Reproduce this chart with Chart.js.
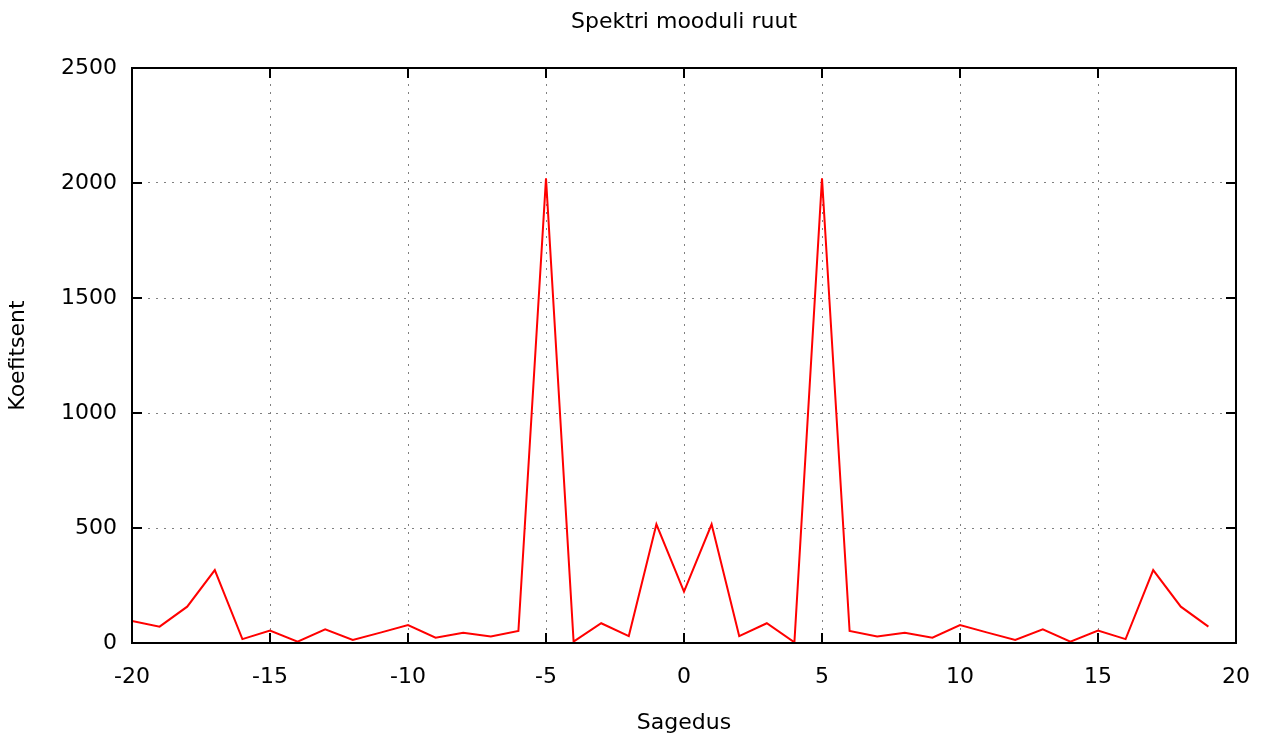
<!DOCTYPE html>
<html>
<head>
<meta charset="utf-8">
<script src="https://cdn.jsdelivr.net/npm/chart.js@4"></script>
<style>
  html, body { margin: 0; padding: 0; background: #ffffff; }
  #wrap { width: 1265px; height: 740px; }
</style>
</head>
<body>
<div id="wrap"><canvas id="c" width="1265" height="740"></canvas></div>
<script>
// Data
const frequencies = [-20,-19,-18,-17,-16,-15,-14,-13,-12,-11,-10,-9,-8,-7,-6,-5,-4,-3,-2,-1,0,1,2,3,4,5,6,7,8,9,10,11,12,13,14,15,16,17,18,19];
const coefficients = [96,71,158,317,17,54,6,59,13,45,78,23,45,28,52,2020,6,86,30,516,223,516,30,86,3,2020,52,28,45,23,78,45,13,59,6,54,17,317,158,71];
const xTickRange = { min: -20, max: 20, step: 5 };
const yTickRange = { min: 0, max: 2500, step: 500 };
const chartTitle = 'Spektri mooduli ruut';
const xAxisTitle = 'Sagedus';
const yAxisTitle = 'Koefitsent';

const FONT = 'DejaVu Sans';
const FSIZE = 22;

const framePlugin = {
  id: 'frame',
  afterDraw(chart) {
    const { ctx, chartArea: a, scales } = chart;
    ctx.save();
    ctx.strokeStyle = '#000000';
    ctx.lineWidth = 2;
    const tl = 10;
    scales.x.ticks.forEach(t => {
      const px = Math.round(scales.x.getPixelForValue(t.value));
      ctx.beginPath();
      ctx.moveTo(px, a.bottom); ctx.lineTo(px, a.bottom - tl);
      ctx.moveTo(px, a.top); ctx.lineTo(px, a.top + tl);
      ctx.stroke();
    });
    scales.y.ticks.forEach(t => {
      const py = Math.round(scales.y.getPixelForValue(t.value));
      ctx.beginPath();
      ctx.moveTo(a.left, py); ctx.lineTo(a.left + tl, py);
      ctx.moveTo(a.right, py); ctx.lineTo(a.right - tl, py);
      ctx.stroke();
    });
    ctx.strokeRect(a.left, a.top, a.right - a.left, a.bottom - a.top);
    ctx.restore();
  }
};

new Chart(document.getElementById('c'), {
  type: 'line',
  data: {
    datasets: [{
      data: frequencies.map((f, i) => ({ x: f, y: coefficients[i] })),
      borderColor: '#ff0000',
      borderWidth: 2,
      pointRadius: 0,
      tension: 0,
      fill: false
    }]
  },
  options: {
    responsive: false,
    animation: false,
    layout: { padding: { left: 0, right: 29, top: 0, bottom: 0 } },
    plugins: {
      legend: { display: false },
      tooltip: { enabled: false },
      title: {
        display: true,
        text: chartTitle,
        fullSize: false,
        color: '#000000',
        font: { family: FONT, size: FSIZE, weight: 'normal' },
        padding: { top: 9, bottom: 32.6 }
      }
    },
    scales: {
      x: {
        type: 'linear',
        min: xTickRange.min,
        max: xTickRange.max,
        afterFit(scale) { scale.height = 97; scale.paddingRight = 10; scale.paddingLeft = 10; },
        ticks: {
          stepSize: xTickRange.step,
          color: '#000000',
          padding: 21,
          maxRotation: 0,
          callback: v => String(v),
          font: { family: FONT, size: FSIZE }
        },
        grid: { color: '#808080', lineWidth: 1, drawTicks: false },
        border: { display: false, dash: [2, 6] },
        title: {
          display: true,
          text: xAxisTitle,
          color: '#000000',
          font: { family: FONT, size: FSIZE },
          padding: { top: 0, bottom: 4 }
        }
      },
      y: {
        type: 'linear',
        min: yTickRange.min,
        max: yTickRange.max,
        afterFit(scale) { scale.width = 132; },
        ticks: {
          stepSize: yTickRange.step,
          color: '#000000',
          padding: 15,
          callback: v => String(v),
          font: { family: FONT, size: FSIZE }
        },
        grid: { color: '#808080', lineWidth: 1, drawTicks: false },
        border: { display: false, dash: [2, 6] },
        title: {
          display: true,
          text: yAxisTitle,
          color: '#000000',
          font: { family: FONT, size: FSIZE },
          padding: { top: 5, bottom: 0 }
        }
      }
    }
  },
  plugins: [framePlugin]
});
</script>
</body>
</html>
